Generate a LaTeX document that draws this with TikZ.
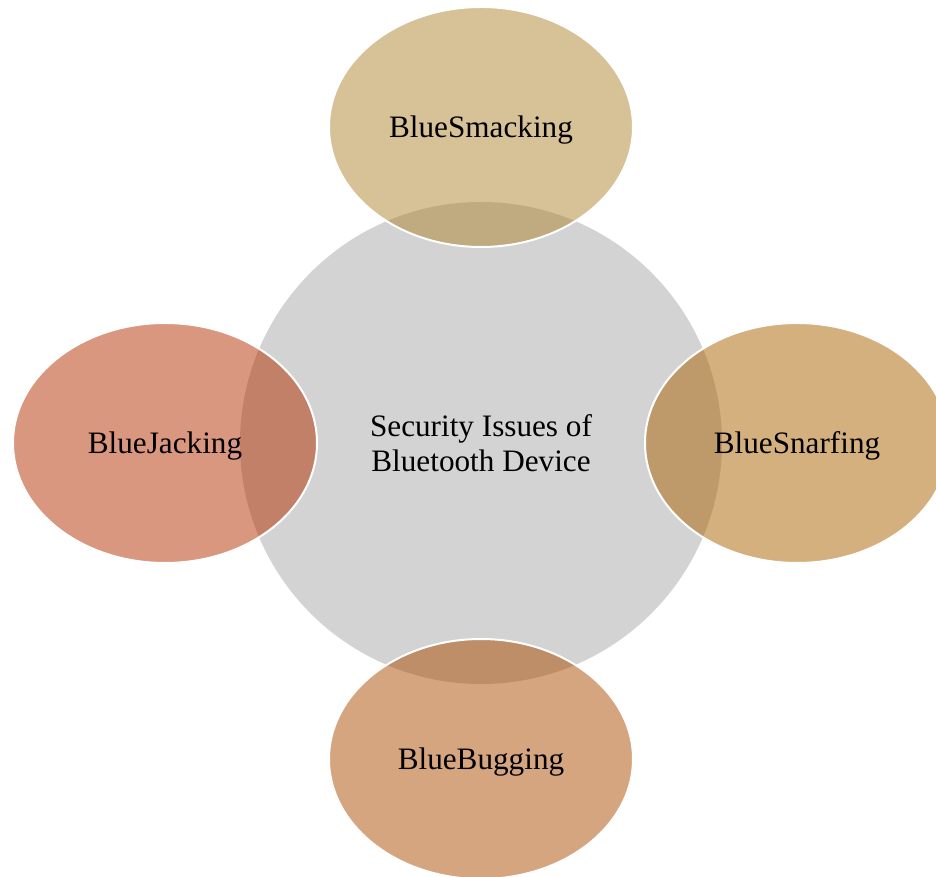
\documentclass[tikz,border=0pt]{standalone}
\usepackage{fontspec}
\setmainfont{Liberation Serif}
\usetikzlibrary{shapes.geometric}

\definecolor{hubgray}{RGB}{211,211,211}
\definecolor{smackcol}{RGB}{175,131,47}
\definecolor{snarfcol}{RGB}{171,97,0}
\definecolor{jackcol}{RGB}{179,47,0}
\definecolor{bugcol}{RGB}{171,75,0}

\tikzset{
  hub/.style={circle, fill=hubgray, minimum size=241pt, inner sep=0pt,
    align=center, font=\fontsize{15.6}{17.6}\selectfont},
  attack/.style={ellipse, draw=white, line width=1pt, fill opacity=0.5,
    text opacity=1, minimum width=152pt, minimum height=120pt, inner sep=0pt,
    text height=10.2pt, text depth=0pt,
    font=\fontsize{15.6}{17.6}\selectfont}
}

\begin{document}
\begin{tikzpicture}
\useasboundingbox (-240.5pt,-217pt) rectangle (227.5pt,221.5pt);
\node[hub] (issues) at (0,0) {Security Issues of\\Bluetooth Device};
\node[attack, fill=smackcol] (smack) at (90:158pt) {BlueSmacking};
\node[attack, fill=snarfcol] (snarf) at (0:158pt) {BlueSnarfing};
\node[attack, fill=jackcol] (jack) at (180:158pt) {BlueJacking};
\node[attack, fill=bugcol] (bug) at (270:158pt) {BlueBugging};
\end{tikzpicture}
\end{document}
